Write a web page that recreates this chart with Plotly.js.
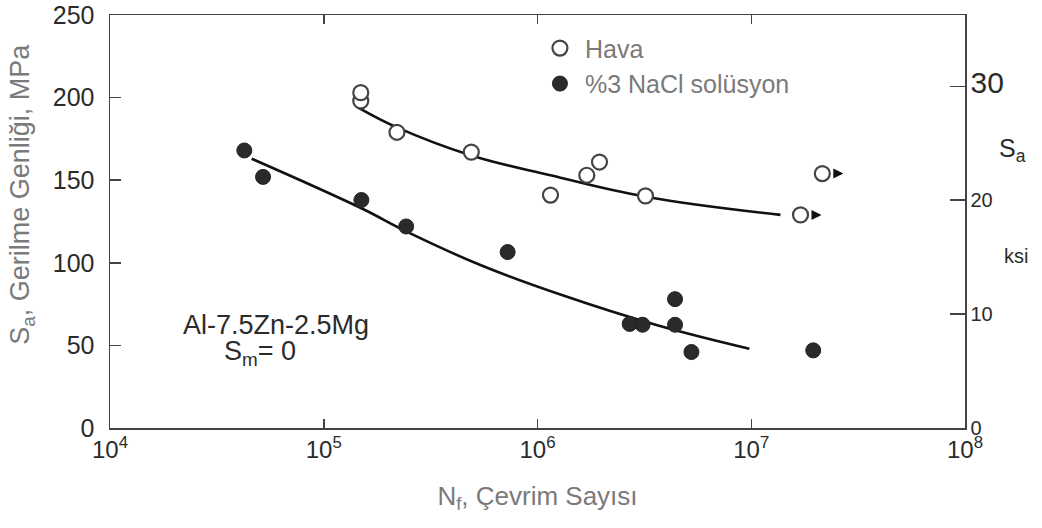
<!DOCTYPE html>
<html>
<head>
<meta charset="utf-8">
<script src="https://cdn.plot.ly/plotly-3.0.1.min.js"></script>
<style>html,body{margin:0;padding:0;background:#fff;}#chart{width:1042px;height:528px;}</style>
</head>
<body>
<div id="chart"></div>
<script>
// Data (N = cycles to failure, S = stress amplitude in MPa)
const havaN = [1.49e5, 1.49e5, 2.2e5, 4.9e5, 1.15e6, 1.7e6, 1.95e6, 3.2e6, 1.7e7, 2.15e7];
const havaS = [198, 203, 179, 167, 141, 153, 161, 140.5, 129, 154];

const naclN = [4.25e4, 5.2e4, 1.5e5, 2.43e5, 7.25e5, 2.7e6, 3.1e6, 4.4e6, 4.4e6, 5.25e6, 1.95e7];
const naclS = [168, 152, 138, 122, 106.5, 63, 62.5, 78, 62.5, 46, 47];

// Fitted curves as drawn
const havaCurveN = [1.45e5, 2.2e5, 4.9e5, 1.15e6, 3.2e6, 1.37e7];
const havaCurveS = [194, 182, 165, 153, 140, 129];

const naclCurveN = [4.6e4, 1.5e5, 2.43e5, 5.44e5, 1.3e6, 3.6e6, 9.8e6];
const naclCurveS = [163, 133, 119, 98.5, 80.5, 62.4, 48];

// Run-out specimens (arrows)
const runoutN = [1.7e7, 2.15e7];
const runoutS = [129, 154];

const xTickVals = [1e4, 1e5, 1e6, 1e7, 1e8];
const xTickText = ['10<sup>4</sup>', '10<sup>5</sup>', '10<sup>6</sup>', '10<sup>7</sup>', '10<sup>8</sup>'];
const yTickVals = [0, 50, 100, 150, 200, 250];
const ksiTickVals = [0, 10, 20, 30];
const ksiTickText = ['0', '10', '20', '<span style="font-size:30px">30</span>'];
const MPA_PER_KSI = 6.895;
const Y_MAX = 250;

const FONT = 'Liberation Sans, Arial, Helvetica, sans-serif';
const GRAY = '#7a7a7a';
const INK = '#2b2b2b';

const traces = [
  {x: havaCurveN, y: havaCurveS, mode: 'lines', line: {color: '#111', width: 2.6, shape: 'spline', smoothing: 1.1}, showlegend: false, hoverinfo: 'skip'},
  {x: naclCurveN, y: naclCurveS, mode: 'lines', line: {color: '#111', width: 2.6, shape: 'spline', smoothing: 1.1}, showlegend: false, hoverinfo: 'skip'},
  {x: havaN, y: havaS, mode: 'markers', name: 'Hava',
   marker: {symbol: 'circle', size: 15, color: '#ffffff', line: {color: '#444', width: 2.2}}},
  {x: naclN, y: naclS, mode: 'markers', name: '%3 NaCl solüsyon',
   marker: {symbol: 'circle', size: 15, color: '#2a2a2a', line: {color: '#222', width: 1}}},
  {x: [1e4, 1e8], y: [0, 0], yaxis: 'y2', mode: 'markers', marker: {opacity: 0}, showlegend: false, hoverinfo: 'skip'}
];

const annotations = [
  {xref: 'paper', yref: 'paper', x: 0.194, y: 0.249, text: 'Al-7.5Zn-2.5Mg', showarrow: false,
   font: {family: FONT, size: 27, color: INK}, xanchor: 'center', yanchor: 'middle'},
  {xref: 'paper', yref: 'paper', x: 0.175, y: 0.182, text: 'S<sub>m</sub>= 0', showarrow: false,
   font: {family: FONT, size: 27, color: INK}, xanchor: 'center', yanchor: 'middle'},
  {xref: 'paper', yref: 'paper', x: -0.103, y: 0.567, text: 'S<sub>a</sub>, Gerilme Genliği, MPa', textangle: -90,
   showarrow: false, font: {family: FONT, size: 27, color: GRAY}, xanchor: 'center', yanchor: 'middle'},
  {xref: 'paper', yref: 'paper', x: 1.055, y: 0.672, text: 'S<sub>a</sub>', showarrow: false,
   font: {family: FONT, size: 25, color: INK}, xanchor: 'center', yanchor: 'middle'},
  {xref: 'paper', yref: 'paper', x: 1.06, y: 0.416, text: 'ksi', showarrow: false,
   font: {family: FONT, size: 20, color: INK}, xanchor: 'center', yanchor: 'middle'}
];
runoutN.forEach((n, i) => {
  annotations.push({x: Math.log10(n), y: runoutS[i], xref: 'x', yref: 'y', text: '', showarrow: true,
    arrowhead: 2, arrowsize: 0.8, arrowwidth: 2.5, arrowcolor: '#111', ax: -8, ay: 0, xshift: 21});
});

const layout = {
  width: 1042, height: 528,
  margin: {l: 110, r: 77, t: 15, b: 100},
  paper_bgcolor: '#ffffff', plot_bgcolor: '#ffffff',
  font: {family: FONT, color: INK},
  showlegend: true,
  legend: {x: 0.497, y: 0.975, xanchor: 'left', yanchor: 'top', bgcolor: 'rgba(0,0,0,0)',
           font: {family: FONT, size: 25, color: GRAY}, itemwidth: 40, tracegroupgap: 0},
  xaxis: {type: 'log', range: [4, 8], tickvals: xTickVals, ticktext: xTickText,
          ticks: 'inside', ticklen: 9, tickwidth: 1.5, tickcolor: '#444',
          showline: true, linecolor: '#444', linewidth: 1.5, mirror: 'ticks',
          showgrid: false, zeroline: false,
          tickfont: {family: FONT, size: 24, color: INK},
          title: {text: 'N<sub>f</sub>, Çevrim Sayısı', font: {family: FONT, size: 26, color: GRAY}, standoff: 24}},
  yaxis: {range: [0, Y_MAX], tickvals: yTickVals,
          ticks: 'inside', ticklen: 11, tickwidth: 1.5, tickcolor: '#444',
          showline: true, linecolor: '#444', linewidth: 1.5, mirror: false,
          showgrid: false, zeroline: false, ticklabelstandoff: 9,
          tickfont: {family: FONT, size: 25, color: INK}},
  yaxis2: {overlaying: 'y', side: 'right', range: [0, Y_MAX / MPA_PER_KSI],
           tickvals: ksiTickVals, ticktext: ksiTickText,
           ticks: 'inside', ticklen: 15, tickwidth: 1.5, tickcolor: '#444',
           showline: true, linecolor: '#444', linewidth: 1.5,
           showgrid: false, zeroline: false,
           tickfont: {family: FONT, size: 20, color: INK}},
  annotations: annotations
};

Plotly.newPlot('chart', traces, layout, {staticPlot: true, displayModeBar: false});
</script>
</body>
</html>
